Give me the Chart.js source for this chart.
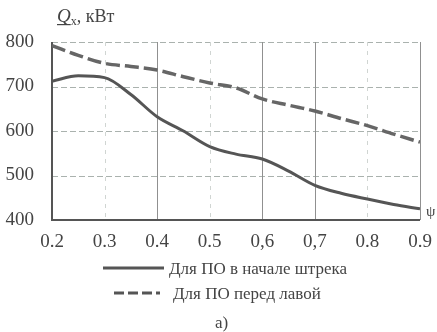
<!DOCTYPE html>
<html>
<head>
<meta charset="utf-8">
<script src="https://cdn.jsdelivr.net/npm/chart.js@4/dist/chart.umd.min.js"></script>
<style>
  html, body { margin: 0; padding: 0; background: #fff; }
  #wrap { width: 437px; height: 332px; }
</style>
</head>
<body>
<div id="wrap"><canvas id="myChart" width="437" height="332"></canvas></div>
<script>
/* datos */
const psi = [0.2, 0.25, 0.3, 0.35, 0.4, 0.45, 0.5, 0.55, 0.6, 0.65, 0.7, 0.75, 0.8, 0.85, 0.9];
const qStart = [712, 724, 720, 682, 632, 600, 565, 548, 537, 510, 478, 460, 447, 435, 425];
const qFace = [792, 770, 752, 745, 737, 722, 708, 697, 672, 658, 645, 628, 612, 593, 575];
const xTickLabels = ['0.2', '0.3', '0.4', '0.5', '0,6', '0,7', '0.8', '0.9'];
const yTicks = [400, 500, 600, 700, 800];
const seriesNames = ['Для ПО в начале штрека', 'Для ПО перед лавой'];
const solidGridX = [0.4, 0.6, 0.7, 0.9];
const dashGridX = [0.3, 0.5, 0.8];

const FONT = '"Liberation Serif", "DejaVu Serif", serif';
const TXT = '#444';

/* rejilla y textos extra */
const extras = {
    id: 'extras',
    beforeDatasetsDraw(chart) {
        const { ctx, chartArea: a, scales: { x, y } } = chart;
        ctx.save();
        // lineas horizontales punteadas (incluye el borde superior)
        ctx.strokeStyle = '#aab2ae';
        ctx.lineWidth = 1;
        ctx.setLineDash([6, 3]);
        yTicks.slice(1).forEach(v => {
            const py = Math.round(y.getPixelForValue(v)) + 0.5;
            ctx.beginPath(); ctx.moveTo(a.left, py); ctx.lineTo(a.right, py); ctx.stroke();
        });
        ctx.strokeStyle = '#d0d5d2';
        ctx.setLineDash([4, 5]);
        dashGridX.forEach(v => {
            const px = Math.round(x.getPixelForValue(v)) + 0.5;
            ctx.beginPath(); ctx.moveTo(px, a.top); ctx.lineTo(px, a.bottom); ctx.stroke();
        });
        ctx.setLineDash([]);
        ctx.strokeStyle = '#909090';
        solidGridX.forEach(v => {
            const px = Math.round(x.getPixelForValue(v)) + 0.5;
            ctx.beginPath(); ctx.moveTo(px, a.top); ctx.lineTo(px, a.bottom); ctx.stroke();
        });
        // ejes
        ctx.strokeStyle = '#555';
        ctx.lineWidth = 2;
        ctx.beginPath();
        ctx.moveTo(a.left, a.top); ctx.lineTo(a.left, a.bottom); ctx.lineTo(a.right, a.bottom);
        ctx.stroke();
        ctx.restore();
    },
    afterDraw(chart) {
        const { ctx, chartArea: a } = chart;
        ctx.save();
        ctx.fillStyle = TXT;
        ctx.textBaseline = 'alphabetic';
        // titulo eje Y: Q_x, кВт
        ctx.font = 'italic 19px ' + FONT;
        ctx.fillText('Q', 57, 22);
        const qw = ctx.measureText('Q').width;
        ctx.fillRect(57, 24, qw, 1.2);
        ctx.font = '12px ' + FONT;
        ctx.fillText('x', 57 + qw, 25);
        ctx.font = '18px ' + FONT;
        ctx.fillText(', кВт', 57 + qw + 6, 22);
        // psi
        ctx.font = '15px ' + FONT;
        ctx.fillText('ψ', a.right + 6, 216);
        // leyenda
        ctx.strokeStyle = '#555';
        ctx.lineWidth = 3;
        ctx.beginPath(); ctx.moveTo(103, 268); ctx.lineTo(164, 268); ctx.stroke();
        ctx.setLineDash([10, 4]);
        ctx.beginPath(); ctx.moveTo(114, 293); ctx.lineTo(160, 293); ctx.stroke();
        ctx.setLineDash([]);
        ctx.font = '17px ' + FONT;
        ctx.fillText(seriesNames[0], 169, 274);
        ctx.fillText(seriesNames[1], 173, 299);
        ctx.fillText('а)', 215, 328);
        ctx.restore();
    }
};

new Chart(document.getElementById('myChart'), {
    type: 'line',
    data: {
        datasets: [
            {
                label: seriesNames[0],
                data: psi.map((p, i) => ({ x: p, y: qStart[i] })),
                borderColor: '#555',
                borderWidth: 3,
                pointRadius: 0,
                cubicInterpolationMode: 'monotone'
            },
            {
                label: seriesNames[1],
                data: psi.map((p, i) => ({ x: p, y: qFace[i] })),
                borderColor: '#666',
                borderWidth: 3.5,
                borderDash: [14, 5],
                pointRadius: 0,
                cubicInterpolationMode: 'monotone'
            }
        ]
    },
    options: {
        responsive: false,
        animation: false,
        layout: { padding: { top: 42, right: 17, left: 0, bottom: 0 } },
        plugins: { legend: { display: false }, tooltip: { enabled: false } },
        scales: {
            x: {
                type: 'linear',
                min: 0.2,
                max: 0.9,
                afterFit: (s) => { s.height = 112; },
                afterBuildTicks: (s) => { s.ticks = xTickLabels.map((t, i) => ({ value: 0.2 + i * 0.1 })); },
                grid: { display: false },
                border: { display: false },
                ticks: {
                    padding: 3,
                    color: TXT,
                    font: { family: FONT, size: 19 },
                    callback: (v) => xTickLabels[Math.round(v * 10) - 2]
                }
            },
            y: {
                min: 400,
                max: 800,
                afterFit: (s) => { s.width = 52; },
                afterBuildTicks: (s) => { s.ticks = yTicks.map(v => ({ value: v })); },
                grid: { display: false },
                border: { display: false },
                ticks: {
                    padding: 10,
                    color: TXT,
                    font: { family: FONT, size: 19 }
                }
            }
        }
    },
    plugins: [extras]
});
</script>
</body>
</html>
